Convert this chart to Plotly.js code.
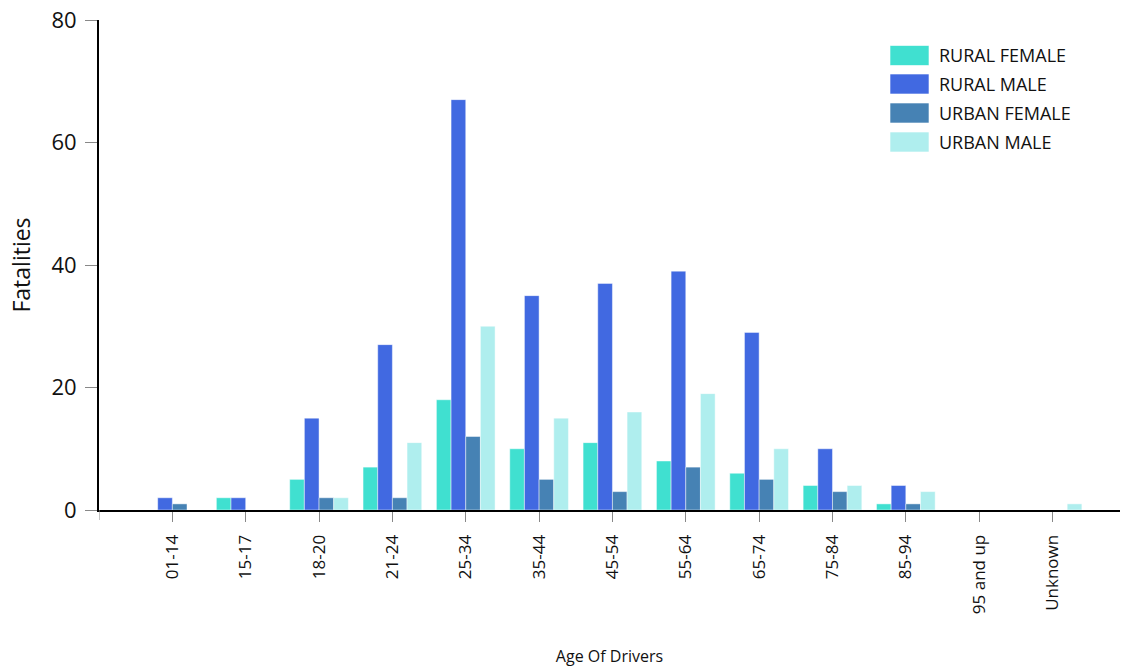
<!DOCTYPE html>
<html>
<head>
<meta charset="utf-8">
<script src="https://cdn.plot.ly/plotly-3.0.1.min.js"></script>
<style>html,body{margin:0;padding:0;background:#fff;}#chart{width:1125px;height:671px;}</style>
</head>
<body>
<div id="chart"></div>
<script>
const ageGroups = ["01-14","15-17","18-20","21-24","25-34","35-44","45-54","55-64","65-74","75-84","85-94","95 and up","Unknown"];
const seriesNames = ["RURAL FEMALE","RURAL MALE","URBAN FEMALE","URBAN MALE"];
const ruralFemale = [0,2,5,7,18,10,11,8,6,4,1,0,0];
const ruralMale   = [2,2,15,27,67,35,37,39,29,10,4,0,0];
const urbanFemale = [1,0,2,2,12,5,3,7,5,3,1,0,0];
const urbanMale   = [0,0,2,11,30,15,16,19,10,4,3,0,1];
const seriesColors = ["#40E0D0","#4169E1","#4682B4","#AFEEEE"];
const yTicks = [0,20,40,60,80];

const values = [ruralFemale, ruralMale, urbanFemale, urbanMale];
const FONT = "Open Sans, Noto Sans, sans-serif";

const traces = values.map((v,i)=>({
  type:'bar', name:seriesNames[i], x:ageGroups, y:v,
  marker:{color:seriesColors[i], line:{color:'rgba(255,255,255,0.45)', width:1}},
  showlegend:false, hoverinfo:'x+y+name'
}));

// plot area in pixels
const L=99, R=5, T=20, B=161, W=1125, H=671;
const pw = W-L-R, ph = H-T-B;
const px = x => (x-L)/pw;
const py = y => (H-B-y)/ph;

const shapes = [];
const annotations = [];
const legendRows = [55.5, 84, 113, 142];
seriesNames.forEach((n,i)=>{
  const cy = legendRows[i];
  shapes.push({type:'rect', xref:'paper', yref:'paper',
    x0:px(890), x1:px(929), y0:py(cy+10), y1:py(cy-10),
    fillcolor:seriesColors[i], line:{color:'rgba(255,255,255,0.6)', width:1}});
  annotations.push({xref:'paper', yref:'paper', x:px(937), y:py(cy),
    xanchor:'left', yanchor:'middle', text:n, showarrow:false,
    font:{family:FONT, size:18, color:'#111'}});
});
// tick mark at the axis origin
shapes.push({type:'line', xref:'x', yref:'paper', x0:-1, x1:-1,
  ysizemode:'pixel', yanchor:0, y0:0, y1:-10, line:{color:'#888', width:1}});

const layout = {
  width:W, height:H,
  margin:{l:L, r:R, t:T, b:B},
  paper_bgcolor:'#fff', plot_bgcolor:'#fff',
  font:{family:FONT, color:'#000'},
  barmode:'group', bargap:0.2, bargroupgap:0,
  xaxis:{type:'category', range:[-1, 12.92], showgrid:false, zeroline:false,
    showline:true, linecolor:'#000', linewidth:2,
    ticks:'outside', ticklen:10, tickwidth:1, tickcolor:'#888',
    tickangle:-90, tickfont:{family:FONT, size:17, color:'#111'},
    ticklabelstandoff:6,
    title:{text:'Age Of Drivers', font:{family:FONT, size:16, color:'#111'}, standoff:38},
    automargin:false, fixedrange:true},
  yaxis:{range:[0,80], tickmode:'array', tickvals:yTicks, showgrid:false, zeroline:false,
    showline:true, linecolor:'#000', linewidth:2,
    ticks:'outside', ticklen:12, tickwidth:1, tickcolor:'#888',
    tickfont:{family:FONT, size:22, color:'#111'}, ticklabelstandoff:4,
    title:{text:'Fatalities', font:{family:FONT, size:23, color:'#111'}, standoff:14},
    automargin:false, fixedrange:true},
  shapes:shapes, annotations:annotations, showlegend:false
};

Plotly.newPlot('chart', traces, layout, {displayModeBar:false, staticPlot:true});
</script>
</body>
</html>
